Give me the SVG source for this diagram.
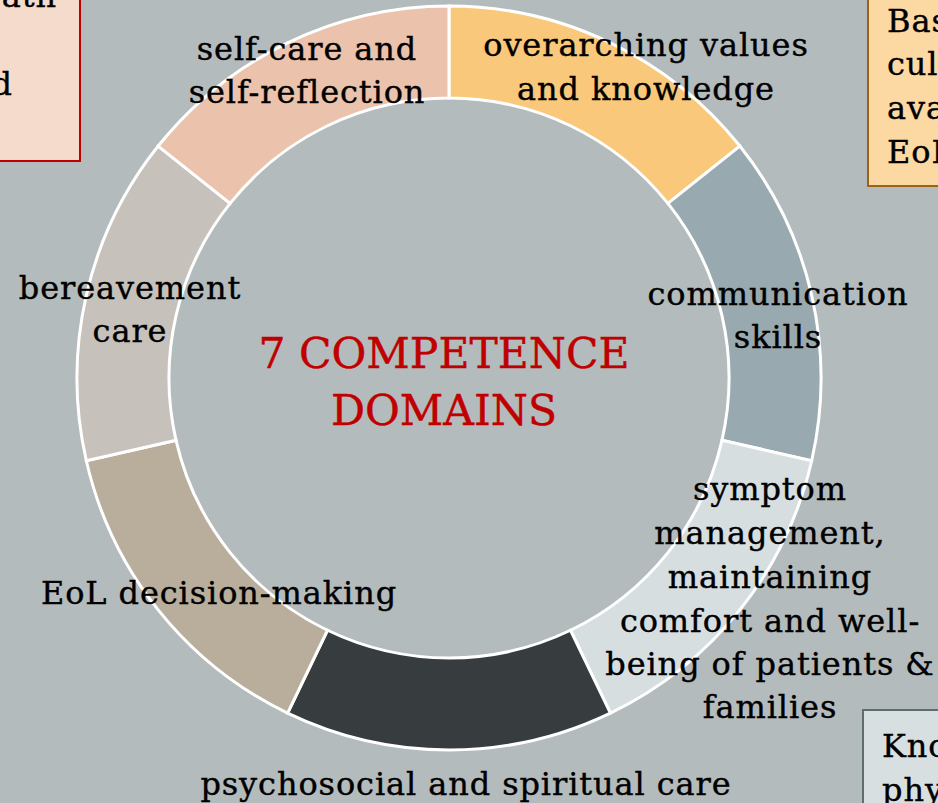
<svg xmlns="http://www.w3.org/2000/svg" width="938" height="803" viewBox="0 0 938 803">
<style>
.lbl{font-family:"DejaVu Serif","Liberation Serif",serif;font-size:32px;letter-spacing:0.9px;fill:#000;stroke:#000;stroke-width:0.4;text-anchor:middle}
.side{font-family:"DejaVu Serif","Liberation Serif",serif;font-size:32px;letter-spacing:0.9px;fill:#000;stroke:#000;stroke-width:0.4}
.title{font-family:"DejaVu Serif","Liberation Serif",serif;font-size:42.5px;fill:#c00000;stroke:#c00000;stroke-width:0.4;text-anchor:middle}
.seg{stroke:#fff;stroke-width:3;stroke-linejoin:miter}
</style>
<rect x="0" y="0" width="938" height="803" fill="#b4bbbc"/>
<g id="box-topleft">
<rect x="-10" y="-10" width="90" height="171" fill="#f4dbcb" stroke="#c00000" stroke-width="2"/>
<text class="side" x="57" y="7" text-anchor="end">ath</text>
<text class="side" x="13" y="95" text-anchor="end">d</text>
</g>
<g id="box-topright">
<rect x="868" y="-10" width="90" height="196" fill="#fcd8a3" stroke="#996515" stroke-width="2"/>
<text class="side" x="887" y="32">Bas</text>
<text class="side" x="887" y="75">cul</text>
<text class="side" x="887" y="119">ava</text>
<text class="side" x="887" y="163">EoL</text>
</g>
<g id="box-bottomright">
<rect x="863" y="710" width="90" height="110" fill="#d8dfe0" stroke="#5e6e70" stroke-width="2"/>
<text class="side" x="882" y="757">Kno</text>
<text class="side" x="882" y="801">phy</text>
</g>
<g id="ring">
<g id="seg-overarching"><path class="seg" fill="#f9c87a" d="M449,6 A372,372 0 0 1 739.84,146.06 L667.91,203.42 A280,280 0 0 0 449,98 Z"/></g>
<g id="seg-communication"><path class="seg" fill="#98a9af" d="M739.84,146.06 A372,372 0 0 1 811.67,460.78 L721.98,440.31 A280,280 0 0 0 667.91,203.42 Z"/></g>
<g id="seg-symptom"><path class="seg" fill="#d7dee0" d="M811.67,460.78 A372,372 0 0 1 610.40,713.16 L570.49,630.27 A280,280 0 0 0 721.98,440.31 Z"/></g>
<g id="seg-psychosocial"><path class="seg" fill="#373d3f" d="M610.40,713.16 A372,372 0 0 1 287.60,713.16 L327.51,630.27 A280,280 0 0 0 570.49,630.27 Z"/></g>
<g id="seg-eol"><path class="seg" fill="#b8ae9b" d="M287.60,713.16 A372,372 0 0 1 86.33,460.78 L176.02,440.31 A280,280 0 0 0 327.51,630.27 Z"/></g>
<g id="seg-bereavement"><path class="seg" fill="#c6c1bb" d="M86.33,460.78 A372,372 0 0 1 158.16,146.06 L230.09,203.42 A280,280 0 0 0 176.02,440.31 Z"/></g>
<g id="seg-selfcare"><path class="seg" fill="#ebc2ab" d="M158.16,146.06 A372,372 0 0 1 449,6 L449,98 A280,280 0 0 0 230.09,203.42 Z"/></g>
</g>
<g id="labels">
<text class="lbl" x="307" y="60">self-care and</text>
<text class="lbl" x="307" y="103">self-reflection</text>
<text class="lbl" x="646" y="56">overarching values</text>
<text class="lbl" x="646" y="100">and knowledge</text>
<text class="lbl" x="778" y="305">communication</text>
<text class="lbl" x="778" y="348">skills</text>
<text class="lbl" x="130" y="299">bereavement</text>
<text class="lbl" x="130" y="342">care</text>
<text class="lbl" x="770" y="500">symptom</text>
<text class="lbl" x="770" y="544">management,</text>
<text class="lbl" x="770" y="588">maintaining</text>
<text class="lbl" x="770" y="632">comfort and well-</text>
<text class="lbl" x="770" y="675">being of patients &amp;</text>
<text class="lbl" x="770" y="718">families</text>
<text class="lbl" x="219" y="604">EoL decision-making</text>
<text class="lbl" x="466" y="795">psychosocial and spiritual care</text>
</g>
<g id="center-title">
<text class="title" x="444" y="368">7 COMPETENCE</text>
<text class="title" x="444" y="425">DOMAINS</text>
</g>
</svg>
